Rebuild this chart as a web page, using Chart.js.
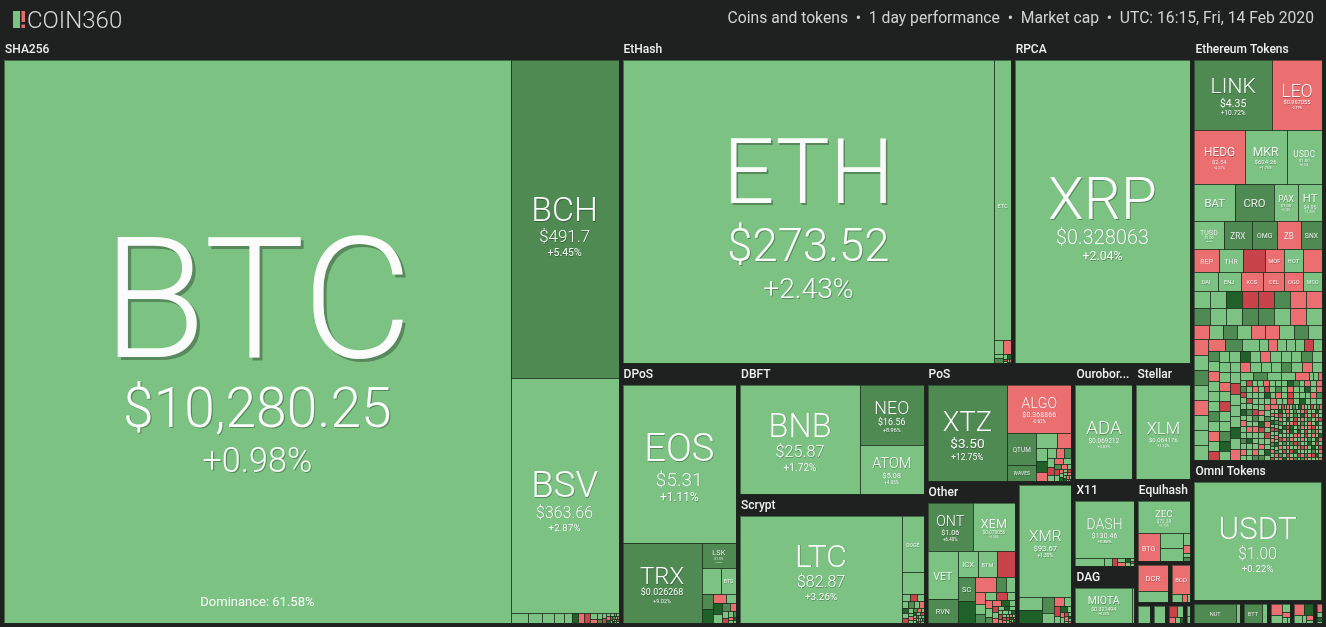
<!DOCTYPE html>
<html>
<head>
<meta charset="utf-8">
<title>COIN360 treemap</title>
<script src="https://cdn.jsdelivr.net/npm/chart.js@4.4.1/dist/chart.umd.min.js"></script>
<style>
  html, body { margin: 0; padding: 0; background: #1f2020; }
  #wrap { position: relative; width: 1326px; height: 627px; }
</style>
</head>
<body>
<div id="wrap"><canvas id="chart"></canvas></div>
<script>
/* --- DATA --- */
const headerText = 'Coins and tokens  \u2022  1 day performance  \u2022  Market cap  \u2022  UTC: 16:15, Fri, 14 Feb 2020';
const btcDominance = '61.58';

// group labels ('' = group too small to carry a label)
const groupNames = ['SHA256', 'EtHash', 'RPCA', 'Ethereum Tokens', 'Omni Tokens', 'DPoS', 'DBFT', 'Scrypt',
  'PoS', 'Ouroboros', 'Stellar', 'Other', '', 'X11', 'Equihash', 'DAG', '', '', '', '', '', '', '', '', '', '', ''];

const coinSymbols = ['BTC', 'BCH', 'BSV', 'ETH', 'ETC', 'XRP',
  'LINK', 'LEO', 'HEDG', 'MKR', 'USDC', 'BAT', 'CRO', 'PAX', 'HT', 'TUSD', 'ZRX', 'OMG', 'ZB', 'SNX', 'REP', 'THR',
  'THETA', 'MOF', 'HOT', 'NEXO', 'DAI', 'ENJ', 'KCS', 'CEL', 'OGO', 'MCO',
  'USDT', 'EOS', 'TRX', 'LSK', 'BTS', 'BNB', 'NEO', 'ATOM', 'LTC', 'DOGE', 'MONA',
  'XTZ', 'ALGO', 'QTUM', 'WAVES', 'ADA', 'XLM',
  'ONT', 'XEM', 'VET', 'RVN', 'ICX', 'BTM', 'HBAR', 'SC', 'XMR', 'BCN',
  'DASH', 'MIOTA', 'ZEC', 'BTG', 'DCR', 'BCD', 'NUT', 'BTT'];
const coinGroups = [0, 0, 0, 1, 1, 2,
  3, 3, 3, 3, 3, 3, 3, 3, 3, 3, 3, 3, 3, 3, 3, 3,
  3, 3, 3, 3, 3, 3, 3, 3, 3, 3,
  4, 5, 5, 5, 5, 6, 6, 6, 7, 7, 7,
  8, 8, 8, 8, 9, 10,
  11, 11, 11, 11, 11, 11, 11, 11, 12, 12,
  13, 15, 14, 14, 16, 17, 18, 19];
const coinPrices = ['$10,280.25', '$491.7', '$363.66', '$273.52', '', '$0.328063',
  '$4.35', '$0.967055', '$2.54', '$624.26', '$1.00', '', '', '$1.00', '$4.95', '$1.00', '', '$1.20', '', '', '', '',
  '', '', '', '', '', '', '', '', '', '',
  '$1.00', '$5.31', '$0.026268', '$1.09', '', '$25.87', '$16.56', '$5.08', '$82.87', '', '',
  '$3.50', '$0.368866', '$2.87', '', '$0.069212', '$0.084176',
  '$1.06', '$0.070056', '$0.008068', '', '', '', '', '', '$93.67', '',
  '$130.46', '$0.321494', '$72.39', '', '', '', '', ''];
const coinChanges = [0.98, 5.45, 2.87, 2.43, 1.5, 2.04,
  10.72, -2.19, -4.32, 1.76, 0.1, 2.5, 6.2, 0.1, 1.2, 0.2, 5.8, 5.3, -3.1, 6.5, -3.4, 1.0,
  -6.5, -3.0, 2.1, -2.5, 0.3, 1.9, -3.2, -2.8, -3.5, 2.2,
  0.22, 1.11, 9.02, 5.6, 1.4, 1.72, 8.96, 4.05, 3.26, 2.1, 1.8,
  12.75, -0.62, 6.1, 5.5, 0.83, 1.32,
  6.4, 2.36, 2.98, 5.9, 2.7, 1.9, -7.2, 6.3, 1.3, 18,
  0.86, 0.33, 1.73, -2.4, -2.2, -3.0, 7.5, 6.0];
// tile sizes (relative area units)
const coinWeights = [277500, 33400, 24600, 109664, 4448, 51852,
  5315, 3433, 2590, 2175, 1829, 1500, 1425, 897, 877, 783, 767, 664, 641, 566, 560, 554,
  489, 435, 433, 433, 431, 418, 415, 390, 350, 343,
  14470, 17424, 6136, 830, 379, 12700, 3700, 3028, 16848, 1165, 449,
  7446, 2980, 897, 473, 5214, 4941,
  2108, 1956, 1423, 709, 494, 472, 445, 406, 5714, 285,
  3204, 1932, 1638, 592, 753, 520, 766, 347];

// unlabeled small tiles per group: [size, colour codes] (g up, G up a lot, D up strongly, r down, R down a lot)
const tailBands = [
  [[170, 'g'], [130, 'g'], [120, 'g'], [90, 'g'], [80, 'g'], [60, 'Dr'], [50, 'R'], [40, 'g'], [30, 'rg'], [20, 'GgR'], [12, 'grDg'], [8, 'rgRgG'], [4, 'grgDgrRg']],
  [[120, 'g'], [96, 'r'], [40, 'gG'], [20, 'gD'], [10, 'Rg'], [5, 'grg']],
  [],
  [[260, 'ggDRRGrrGggGGgrg'], [200, 'rgGgrrgGgrgGgrgggrGg'],
   [105, 'grgggRgGgrgggGgrgRggDgrgggGgggrgRggGDggrgggGgrggRgggDgrgGggr'],
   [34, 'ggrgGRggDgrggGgrgRggrgggDGgrgrggRgGggrgDgggrgRgGgrggDgrgggRGgrgggrGgDgrgRgggrGggrgDRggrgGgrggRgDgggrgGrgRggDgr'],
   [14, 'gRgrgGgDrggRgGrgrgDgRggrGgrgRgDgrgGgrRggDgrgGgRgrgDgGrgRgrgGgDrgRggrGgDgRgrgGrgDgRgrgGgrRgDggrGgRgDgrRgGgrgDgRrgGgrgRgDgGrgrRggDgrGgRgrgDgRgGrgrgRgDgGrgRgrgDgGrgRgrgGgDrgRgrGgDgRgrgGrgDgRgrgGgrRgDggr']],
  [[80, 'g'], [40, 'g']],
  [[486, 'g'], [168, 'G'], [160, 'D'], [120, 'r'], [100, 'g'], [90, 'D'], [80, 'g'], [60, 'G'], [50, 'r'], [40, 'g'], [30, 'R'], [25, 'g'], [20, 'G'], [15, 'r'], [12, 'g'], [10, 'D'], [8, 'g']],
  [],
  [[60, 'g'], [50, 'R'], [45, 'g'], [40, 'gG'], [30, 'grD'], [25, 'gRg'], [18, 'grgG'], [12, 'rgDgR'], [8, 'grgRgg'], [5, 'gDgrgRg']],
  [[300, 'g'], [200, 'r'], [137, 'g'], [120, 'D'], [100, 'r'], [90, 'g'], [80, 'rG'], [60, 'gR'], [45, 'grg'], [35, 'Gr'], [25, 'gRg'], [18, 'rgD'], [12, 'gRgr'], [8, 'gDrg'], [5, 'grR']],
  [],
  [],
  [[357, 'D'], [324, 'r'], [150, 'G'], [130, 'g'], [110, 'r'], [100, 'g'], [90, 'G'], [80, 'gR'], [60, 'grg'], [45, 'GrD'], [35, 'gRg'], [25, 'rgDg'], [18, 'gRrg'], [12, 'gDgRr'], [8, 'grgRgD'], [5, 'rgRgDg']],
  [[290, 'g'], [180, 'G'], [120, 'g'], [90, 'r'], [60, 'gR'], [40, 'gD'], [25, 'grg'], [15, 'Rgr'], [8, 'gDgr']],
  [[217, 'g'], [60, 'g'], [40, 'R'], [30, 'gr'], [20, 'Dg'], [10, 'gRg']],
  [[319, 'g'], [305, 'g'], [90, 'g'], [60, 'r'], [30, 'gG']],
  [[60, 'g']],
  [[334, 'g']],
  [[80, 'g'], [40, 'r'], [30, 'g']],
  [[66, 'g']],
  [[87, 'g']],
  [[120, 'r'], [80, 'g'], [60, 'g'], [40, 'r'], [30, 'g'], [20, 'g']],
  [[100, 'r'], [90, 'D'], [60, 'g'], [40, 'g'], [30, 'r'], [20, 'g']],
  [[40, 'r'], [30, 'g'], [20, 'D'], [10, 'g']],
  [[200, 'g']],
  [[170, 'g']],
  [[90, 'R'], [60, 'g'], [40, 'r'], [30, 'g'], [20, 'D']],
  [[30, 'g'], [20, 'g']]
];
const codeChange = { g: 1.5, G: 7, D: 20, r: -2, R: -9 };

// how groups are nested on the page: 'h' = side by side, 'v' = stacked
const layoutTree = ['h', 0, ['h',
  ['v', ['h', 1, 2],
        ['h', 5, ['v', 6, 7],
              ['h', ['v', 8, ['h', 11, 12]],
                    ['v', ['h', 9, 10],
                          ['h', ['v', 13, 15], ['v', 14, ['h', 16, 17], ['h', 23, 24, 25, 26]]]]]]],
  ['v', 3, 4, ['h', 18, 19, 20, 21, 22]]]];

const FONT = "Roboto, 'Noto Sans', 'DejaVu Sans', sans-serif";

/* --- LAYOUT --- */
function tileColor(c) {
    if (c >= 15) return '#1f6128';
    if (c >= 5) return '#4f8a53';
    if (c >= 0) return '#7cc283';
    if (c > -5) return '#eb6f70';
    if (c > -15) return '#c9444a';
    return '#a3282e';
}

function groupItems(g) {
    const items = [];
    coinSymbols.forEach((s, i) => {
        if (coinGroups[i] === g) items.push({ sym: s, price: coinPrices[i], change: coinChanges[i], w: coinWeights[i] });
    });
    tailBands[g].forEach(([w, codes]) => {
        for (const c of codes) items.push({ sym: '', price: '', change: codeChange[c], w: w });
    });
    return items.sort((a, b) => b.w - a.w);
}

function groupContent(r, g) {
    const top = groupNames[g] ? 20 : 2;
    return { x: r.x + 2, y: r.y + top, w: Math.max(0, r.w - 4), h: Math.max(0, r.h - top - 2) };
}

function treeWeight(node, gw) {
    if (typeof node === 'number') return gw[node];
    return node.slice(1).reduce((s, k) => s + treeWeight(k, gw), 0);
}

function placeTree(node, rect, gw, out) {
    if (typeof node === 'number') { out[node] = rect; return; }
    const total = treeWeight(node, gw);
    let off = 0;
    node.slice(1).forEach(k => {
        const f = treeWeight(k, gw) / total;
        if (node[0] === 'h') {
            const w = rect.w * f;
            placeTree(k, { x: rect.x + off, y: rect.y, w: w, h: rect.h }, gw, out);
            off += w;
        } else {
            const h = rect.h * f;
            placeTree(k, { x: rect.x, y: rect.y + off, w: rect.w, h: h }, gw, out);
            off += h;
        }
    });
}

function worst(row, side) {
    const s = row.reduce((a, n) => a + n.a, 0);
    let m = 0;
    row.forEach(n => {
        m = Math.max(m, side * side * n.a / (s * s), (s * s) / (side * side * n.a));
    });
    return m;
}

function layoutRow(row, r, out) {
    const s = row.reduce((a, n) => a + n.a, 0);
    if (r.w >= r.h) {
        const cw = s / r.h;
        let y = r.y;
        row.forEach(n => { const h = n.a / cw; out.push({ item: n.item, x: r.x, y: y, w: cw, h: h }); y += h; });
        return { x: r.x + cw, y: r.y, w: r.w - cw, h: r.h };
    }
    const rh = s / r.w;
    let x = r.x;
    row.forEach(n => { const w = n.a / rh; out.push({ item: n.item, x: x, y: r.y, w: w, h: rh }); x += w; });
    return { x: r.x, y: r.y + rh, w: r.w, h: r.h - rh };
}

function squarify(items, rect) {
    const total = items.reduce((a, it) => a + it.w, 0);
    const scale = rect.w * rect.h / total;
    const nodes = items.map(it => ({ item: it, a: it.w * scale }));
    const out = [];
    let r = { ...rect };
    let row = [];
    let i = 0;
    while (i < nodes.length) {
        const side = Math.min(r.w, r.h);
        const cand = row.concat([nodes[i]]);
        if (row.length === 0 || worst(cand, side) <= worst(row, side)) { row = cand; i++; }
        else { r = layoutRow(row, r, out); row = []; }
    }
    if (row.length) layoutRow(row, r, out);
    return out;
}

const items = groupNames.map((_, g) => groupItems(g));
const contentSums = items.map(list => list.reduce((a, it) => a + it.w, 0));
const root = { x: 2, y: 40, w: 1322, h: 585 };
let overhead = groupNames.map(() => 0);
let groupRects = [];
// a few passes so the label strips and gaps don't eat into the tile areas
for (let pass = 0; pass < 8; pass++) {
    const C = contentSums.reduce((a, b) => a + b, 0);
    const O = overhead.reduce((a, b) => a + b, 0);
    const k = (root.w * root.h - O) / C;
    const gw = contentSums.map((c, g) => c * k + overhead[g]);
    groupRects = [];
    placeTree(layoutTree, root, gw, groupRects);
    overhead = groupRects.map((r, g) => { const c = groupContent(r, g); return r.w * r.h - c.w * c.h; });
}

const tiles = [];
items.forEach((list, g) => {
    squarify(list, groupContent(groupRects[g], g)).forEach(t => {
        tiles.push({ x: t.x + t.w / 2, y: t.y + t.h / 2, x0: t.x, y0: t.y, x1: t.x + t.w, y1: t.y + t.h, g: g, item: t.item });
    });
});

/* --- DRAWING --- */
function fitLabel(ctx, text, maxW) {
    if (ctx.measureText(text).width <= maxW) return text;
    let s = text;
    while (s.length > 1 && ctx.measureText(s + '...').width > maxW) s = s.slice(0, -1);
    return s + '...';
}

function drawTileText(ctx, it, X, Y, W, H) {
    if (!it.sym) return;
    ctx.font = `300 100px ${FONT}`;
    const S = Math.min(H * 0.3, W * 0.62 / (ctx.measureText(it.sym).width / 100));
    if (S < 5) return;
    let P = 0;
    const chg = (it.change >= 0 ? '+' : '') + it.change.toFixed(2) + '%';
    if (it.price) {
        P = Math.min(S * 0.5, W * 0.53 / (ctx.measureText(it.price).width / 100));
        if (P < 3.5) P = 0;
    }
    const C = P * 0.62;
    const capS = S * 0.71, capP = P * 0.72, capC = C * 0.72;
    const block = capS + (P ? 0.55 * P + capP + 0.6 * C + capC : 0);
    const top = Y + H / 2 - block / 2 + H * 0.023;
    const cx = X + W / 2;

    ctx.save();
    ctx.textAlign = 'center';
    ctx.textBaseline = 'alphabetic';
    ctx.shadowColor = 'rgba(0,0,0,0.3)';
    ctx.fillStyle = S >= 14 ? 'rgba(255,255,255,0.97)' : 'rgba(255,255,255,0.88)';
    ctx.shadowOffsetX = ctx.shadowOffsetY = Math.max(0.5, S * 0.018);
    ctx.font = `${S >= 14 ? 300 : 400} ${S}px ${FONT}`;
    ctx.fillText(it.sym, cx, top + capS);
    if (P) {
        ctx.shadowOffsetX = ctx.shadowOffsetY = Math.max(0.5, P * 0.02);
        ctx.font = `${P >= 14 ? 300 : 400} ${P}px ${FONT}`;
        const pb = top + capS + 0.55 * P + capP;
        ctx.fillText(it.price, cx, pb);
        ctx.font = `${C >= 14 ? 300 : 400} ${C}px ${FONT}`;
        ctx.fillText(chg, cx, pb + 0.6 * C + capC);
    }
    ctx.restore();
}

const treemapPlugin = {
    id: 'treemapTiles',
    beforeDatasetsDraw(chart) {
        const { ctx } = chart;
        const xs = chart.scales.x, ys = chart.scales.y;
        const px = v => xs.getPixelForValue(v);
        const py = v => ys.getPixelForValue(v);

        ctx.save();
        ctx.fillStyle = '#1f2020';
        ctx.fillRect(0, 0, chart.width, chart.height);

        // page header
        ctx.fillStyle = '#7cc283';
        ctx.fillRect(13, 11, 7, 17);
        ctx.fillStyle = '#e66a6a';
        ctx.fillRect(21.5, 11, 3.5, 11);
        ctx.fillRect(21.5, 24.5, 3.5, 3.5);
        ctx.fillStyle = '#d6d6d6';
        ctx.font = `300 24px ${FONT}`;
        ctx.textBaseline = 'alphabetic';
        ctx.textAlign = 'left';
        ctx.fillText('COIN360', 27, 28);
        ctx.font = `400 15.7px ${FONT}`;
        ctx.textAlign = 'right';
        ctx.textBaseline = 'middle';
        ctx.fillStyle = '#d2d2d2';
        ctx.fillText(headerText, 1314, 19);

        // group labels
        ctx.textAlign = 'left';
        ctx.font = `500 12px ${FONT}`;
        ctx.fillStyle = '#f0f0f0';
        groupRects.forEach((r, g) => {
            if (!groupNames[g]) return;
            ctx.fillText(fitLabel(ctx, groupNames[g], r.w - 5), px(r.x) + 3, py(r.y) + 10);
        });

        // tiles
        const pts = chart.data.datasets[0].data;
        pts.forEach(t => {
            const X0 = Math.round(px(t.x0)), X1 = Math.round(px(t.x1));
            const Y0 = Math.round(py(t.y0)), Y1 = Math.round(py(t.y1));
            ctx.fillStyle = tileColor(t.item.change);
            ctx.fillRect(X0, Y0, X1 - X0, Y1 - Y0);
        });
        ctx.strokeStyle = 'rgba(28,48,30,0.6)';
        ctx.lineWidth = 1;
        pts.forEach(t => {
            const X0 = Math.round(px(t.x0)), X1 = Math.round(px(t.x1));
            const Y0 = Math.round(py(t.y0)), Y1 = Math.round(py(t.y1));
            if (X1 - X0 < 1 || Y1 - Y0 < 1) return;
            ctx.strokeRect(X0 + 0.5, Y0 + 0.5, X1 - X0, Y1 - Y0);
        });
        pts.forEach(t => {
            const X0 = px(t.x0), Y0 = py(t.y0), W = px(t.x1) - X0, H = py(t.y1) - Y0;
            drawTileText(ctx, t.item, X0, Y0, W, H);
            if (t.item.sym === 'BTC') {
                ctx.font = `400 13px ${FONT}`;
                ctx.textAlign = 'center';
                ctx.textBaseline = 'middle';
                ctx.fillStyle = 'rgba(255,255,255,0.95)';
                ctx.fillText(`Dominance: ${btcDominance}%`, X0 + W / 2, Y0 + H - 20);
            }
        });
        ctx.restore();
    }
};

new Chart(document.getElementById('chart').getContext('2d'), {
    type: 'scatter',
    data: { datasets: [{ data: tiles, pointRadius: 0, pointHoverRadius: 0 }] },
    options: {
        responsive: true,
        maintainAspectRatio: false,
        animation: false,
        events: [],
        layout: { padding: 0 },
        plugins: { legend: { display: false }, tooltip: { enabled: false } },
        scales: {
            x: { type: 'linear', min: 0, max: 1326, display: false },
            y: { type: 'linear', min: 0, max: 627, reverse: true, display: false }
        }
    },
    plugins: [treemapPlugin]
});
</script>
</body>
</html>
